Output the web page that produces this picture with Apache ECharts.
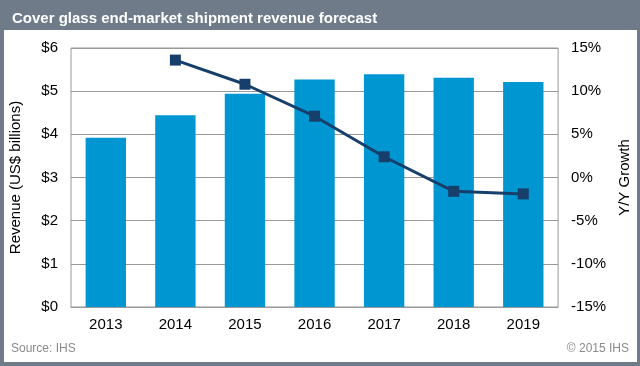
<!DOCTYPE html>
<html>
<head>
<meta charset="utf-8">
<script src="https://cdn.jsdelivr.net/npm/echarts@6/dist/echarts.min.js"></script>
<style>
html,body{margin:0;padding:0;background:#6f7b89;}
#c{width:640px;height:366px;}
</style>
</head>
<body>
<div id="c"></div>
<script>
const years = ['2013','2014','2015','2016','2017','2018','2019'];
const revenue = [3.92, 4.44, 4.94, 5.27, 5.39, 5.31, 5.21];
const growth = [null, 13.6, 10.8, 7.1, 2.4, -1.6, -1.9];
const titleText = 'Cover glass end-market shipment revenue forecast';
const sourceText = 'Source: IHS';
const copyText = '\u00A9 2015 IHS';

const FONT = '"Liberation Sans", Arial, sans-serif';
const chart = echarts.init(document.getElementById('c'));
chart.setOption({
  backgroundColor: '#6f7b89',
  animation: false,
  textStyle: { fontFamily: FONT },
  graphic: [
    { type: 'rect', z: -10, shape: { x: 4, y: 30, width: 633, height: 332 }, style: { fill: '#ffffff' } },
    { type: 'text', left: 11, top: 343, style: { text: sourceText, fill: '#8a8a8a', font: '12px ' + FONT } },
    { type: 'text', right: 11, top: 343, style: { text: copyText, fill: '#8a8a8a', font: '12px ' + FONT } }
  ],
  title: {
    text: titleText,
    left: 7, top: 6,
    textStyle: { color: '#ffffff', fontSize: 15, fontWeight: 'bold', fontFamily: FONT }
  },
  grid: { left: 67, right: 77, top: 48, bottom: 59, show: true, borderColor: '#999999', borderWidth: 1 },
  xAxis: {
    type: 'category',
    data: years,
    axisLine: { lineStyle: { color: '#999999' } },
    axisTick: { inside: true, length: 5, lineStyle: { color: '#999999' } },
    axisLabel: { color: '#000', fontSize: 15, margin: 10 }
  },
  yAxis: [
    {
      type: 'value', min: 0, max: 6, interval: 1,
      name: 'Revenue (US$ billions)', nameLocation: 'middle', nameGap: 48, nameRotate: 90,
      nameTextStyle: { color: '#000', fontSize: 15 },
      axisLabel: { color: '#000', fontSize: 15, margin: 13, formatter: v => '$' + v },
      axisLine: { show: false }, axisTick: { show: false },
      splitLine: { lineStyle: { color: '#999999' } }
    },
    {
      type: 'value', min: -15, max: 15, interval: 5, position: 'right',
      name: 'Y/Y Growth', nameLocation: 'middle', nameGap: 55, nameRotate: 90,
      nameTextStyle: { color: '#000', fontSize: 15 },
      axisLabel: { color: '#000', fontSize: 15, margin: 13, formatter: v => v + '%' },
      axisLine: { show: false }, axisTick: { show: false },
      splitLine: { show: false }
    }
  ],
  series: [
    { type: 'bar', data: revenue, barWidth: '58%', itemStyle: { color: '#0096d1' } },
    { type: 'line', yAxisIndex: 1, data: growth, symbol: 'rect', symbolSize: 11,
      lineStyle: { color: '#173f6b', width: 3 }, itemStyle: { color: '#173f6b' } }
  ]
});
</script>
</body>
</html>
